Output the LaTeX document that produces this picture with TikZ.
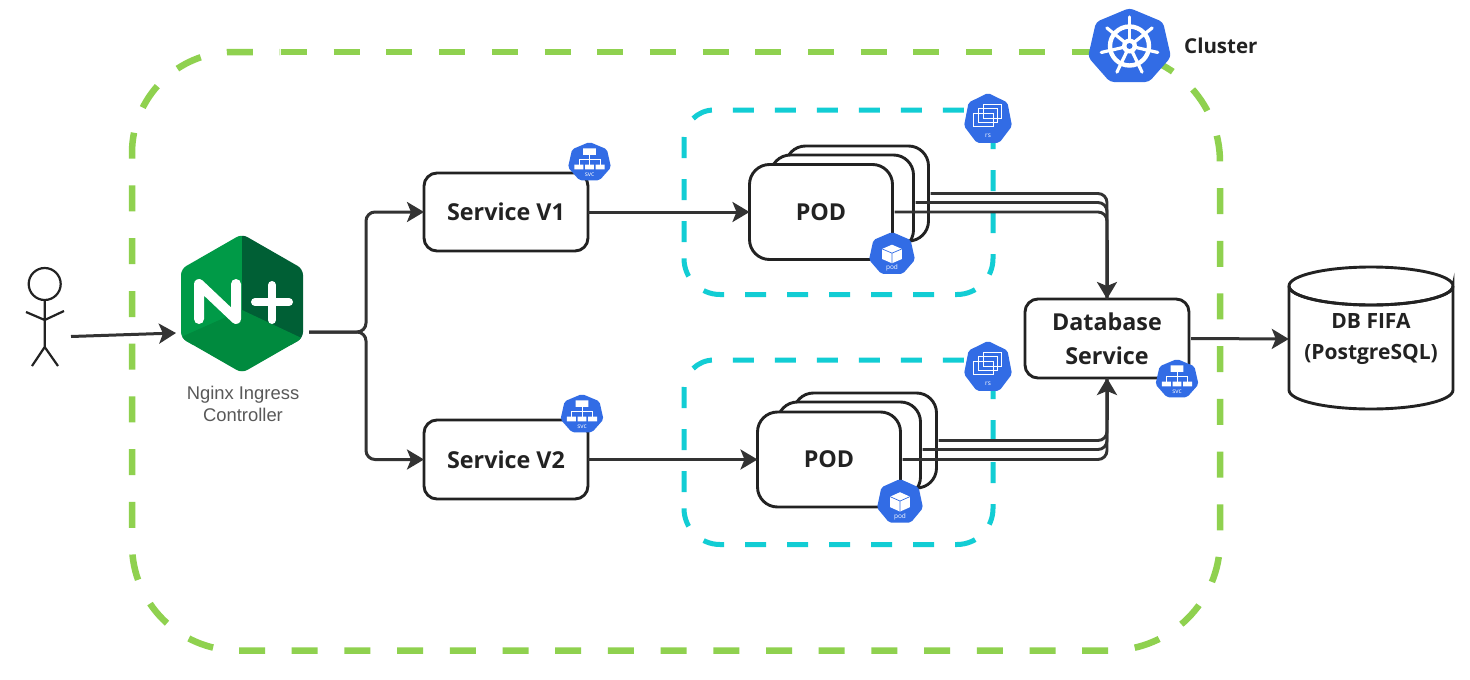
\documentclass[tikz,border=0pt]{standalone}
\usepackage{fontspec}
\setmainfont{Open Sans}
\newfontfamily\labelfont{Liberation Sans}
\usetikzlibrary{arrows.meta}
\definecolor{kblue}{HTML}{326CE5}
\definecolor{gdash}{HTML}{8FD14F}
\definecolor{cdash}{HTML}{12CDD4}
\definecolor{ink}{HTML}{222222}
\definecolor{line}{HTML}{333333}
\definecolor{ngA}{HTML}{009A47}
\definecolor{ngB}{HTML}{005F35}
\definecolor{ngC}{HTML}{008A3E}
\tikzset{
  clusterline/.style={draw=gdash,line width=6.5pt,dash pattern=on 26pt off 26.7pt},
  rsline/.style={draw=cdash,line width=5pt,dash pattern=on 21pt off 21pt},
  card/.style={draw=ink,line width=2.9pt,fill=white,rounded corners=13pt,inner sep=0pt,outer sep=0pt,text=ink,
     font=\fontsize{23.3}{34}\selectfont\bfseries,align=center},
  podcard/.style={card,rounded corners=20pt,minimum width=143pt,minimum height=95pt},
  conn/.style={draw=line,line width=3pt,-{Stealth[length=17pt,width=20pt,inset=4pt]}},
  plainconn/.style={draw=line,line width=2.9pt},
  iconlabel/.style={text=white,inner sep=0pt,font=\fontsize{6.5}{7}\selectfont},
}
% name, centre x, top y, half width, y unit, label, glyph
\newcommand{\kubeicon}[7]{%
  \begin{scope}[shift={(#2,#3)},x=#4pt,y=-#5pt]
    \fill[kblue,rounded corners=2pt] (0,0)--(.81,.34)--(1,1.18)--(.47,1.78)--(-.47,1.78)--(-1,1.18)--(-.81,.34)--cycle;
    #7
    \node[iconlabel] (#1) at (0,1.54) {#6};
  \end{scope}}
\newcommand{\svcglyph}{%
  \fill[white] (-.3,.3) rectangle (.3,.6) (-.7,1.05) rectangle (-.28,1.27) (-.2,1.05) rectangle (.2,1.27) (.28,1.05) rectangle (.7,1.27);
  \draw[white,line width=.7pt] (0,.6)--(0,1.05) (-.49,1.05)--(-.49,.82)--(.49,.82)--(.49,1.05);}
\newcommand{\podglyph}{%
  \fill[white] (0,.54)--(.43,.72)--(.43,1.15)--(0,1.33)--(-.43,1.15)--(-.43,.72)--cycle;
  \draw[kblue,line width=.7pt] (-.43,.72)--(0,.9)--(.43,.72) (0,.9)--(0,1.33);}
\newcommand{\rsglyph}{%
  \draw[white,line width=.9pt] (-.2,.4) rectangle (.58,.91) (-.4,.56) rectangle (.41,1.06) (-.6,.72) rectangle (.23,1.2);}
\newcommand{\rsbox}[1]{%
  \begin{scope}[shift={(0,#1)}]
    \draw[rsline,rounded corners=30pt] (684,242)--(684,110)--(966,110);
    \draw[rsline,rounded corners=36pt] (993,128)--(993,294.5)--(684,294.5)--(684,262);
  \end{scope}}
\begin{document}
\begin{tikzpicture}[x=1pt,y=-1pt]
\useasboundingbox (0,0) rectangle (1470,680);
\fill[white] (0,0) rectangle (1470,680);

% containers
\draw[clusterline,rounded corners=101pt] (132,264)--(132,52)--(280,52);
\draw[clusterline] (281,52)--(1097,52);
\draw[clusterline,rounded corners=106pt] (132,291)--(132,650.5)--(238,650.5);
\draw[clusterline,rounded corners=110pt] (239,650.5)--(1220,650.5)--(1220,52)--(1090,52);
\rsbox{0}
\rsbox{250}

% user
\draw[ink,line width=2.2pt,fill=white] (44.7,284) circle (16);
\draw[ink,line width=2.2pt] (44.7,300)--(44.7,347) (26,312)--(44.7,320)--(64,311) (32,366)--(44.7,347)--(58,366);
\coordinate (user) at (71,336.5);

% nginx logo
\begin{scope}
  \clip[rounded corners=6pt] (242,234)--(303,269)--(303,338)--(242,373)--(181,338)--(181,269)--cycle;
  \fill[ngA] (170,225) rectangle (242,345);
  \fill[ngB] (242,225) rectangle (310,345);
  \fill[ngC] (170,342)--(242,310)--(310,342)--(310,380)--(170,380)--cycle;
\end{scope}
\draw[white,line width=10pt,line cap=round,line join=round] (199,319)--(199,284)--(236,319)--(236,284);
\draw[white,line width=8pt,line cap=round] (255,302)--(289,302) (272,285)--(272,320);
\node[text=black!65,inner sep=0pt,align=center,font=\labelfont\fontsize{18.4}{22}\selectfont] (nginxlabel) at (243,404) {Nginx Ingress\\Controller};
\coordinate (nout) at (309,332);
\coordinate (nin) at (176,333);
\coordinate (bus) at (366,332);

% services
\node[card,minimum width=164pt,minimum height=78pt] (s1) at (506,212) {Service V1};
\node[card,minimum width=164pt,minimum height=79pt] (s2) at (506,459.5) {Service V2};
\node[card,minimum width=164pt,minimum height=79pt] (dbsvc) at (1107,338.5) {Database\\Service};

% pods
\node[podcard] (p1c) at (857,193.5) {};
\node[podcard] (p1b) at (842,202.5) {};
\node[podcard] (p1a) at (821,212) {POD};
\node[podcard] (p2c) at (865,440.5) {};
\node[podcard] (p2b) at (849,449.5) {};
\node[podcard] (p2a) at (829,459.5) {POD};

% database
\draw[ink,line width=2.9pt,fill=white] (1289,286)--(1289,390) arc[start angle=180,end angle=360,x radius=82,y radius=-19]--(1453,286) arc[start angle=0,end angle=360,x radius=82,y radius=19];
\draw[ink,line width=2.9pt] (1289,286) arc[start angle=180,end angle=360,x radius=82,y radius=-19];
\node[inner sep=0pt,text=ink,align=center,minimum width=164pt,minimum height=142pt,font=\fontsize{21}{31}\selectfont\bfseries] (dbfifa) at (1371,339) {DB FIFA\\(PostgreSQL)};

% connectors
\draw[conn] (user)--(nin);
\draw[conn,rounded corners=9pt] (nout)--(bus)|-(s1.west);
\draw[conn,rounded corners=9pt] (nout)--(bus)|-(s2.west);
\draw[conn] (s1.east)--(p1a.west);
\draw[conn] (s2.east)--(p2a.west);
\draw[conn] (dbsvc.east)++(2,0)--(dbfifa.west);
\foreach \n/\g in {p1a/2,p1b/2,p1c/2}{\draw[plainconn,rounded corners=9pt] (\n.east)++(\g,0)-|(dbsvc.north);}
\foreach \n/\g in {p2a/2,p2b/2,p2c/2}{\draw[plainconn,rounded corners=9pt] (\n.east)++(\g,0)-|(dbsvc.south);}
\draw[conn] (1107,240)--(dbsvc.north);
\draw[conn] (1107,420)--(dbsvc.south);

% icons
\kubeicon{isvc1}{589.5}{142}{21.5}{21.5}{svc}{\svcglyph}
\kubeicon{isvc2}{582}{394}{21.5}{21.5}{svc}{\svcglyph}
\kubeicon{isvc3}{1177}{359}{21.5}{21.5}{svc}{\svcglyph}
\kubeicon{irs1}{988}{93}{24}{28}{rs}{\rsglyph}
\kubeicon{irs2}{988}{341}{24}{28}{rs}{\rsglyph}
\kubeicon{ipod1}{892}{232}{23}{23.5}{pod}{\podglyph}
\kubeicon{ipod2}{900}{479}{23}{24.5}{pod}{\podglyph}

% kubernetes wheel
\fill[kblue,rounded corners=4pt] (1129.5,8)--(1163,22)--(1171,57)--(1149,82)--(1110,82)--(1088,57)--(1096,22)--cycle;
\begin{scope}[shift={(1129.5,46)}]
  \draw[white,line width=4.4pt] (0,0) circle (19.5);
  \foreach \a in {90,141.43,192.86,244.29,295.71,347.14,398.57}{
    \draw[white,line width=3.2pt,line cap=round] ({7*cos(\a)},{-7*sin(\a)})--({29*cos(\a)},{-29*sin(\a)});
  }
  \fill[white] (0,0) circle (7.5);
  \fill[kblue] (0,0) circle (3);
\end{scope}
\node[anchor=west,inner sep=0pt,text=ink,font=\fontsize{20.5}{23}\selectfont\bfseries] (clusterlabel) at (1184,45.5) {Cluster};
\end{tikzpicture}
\end{document}
